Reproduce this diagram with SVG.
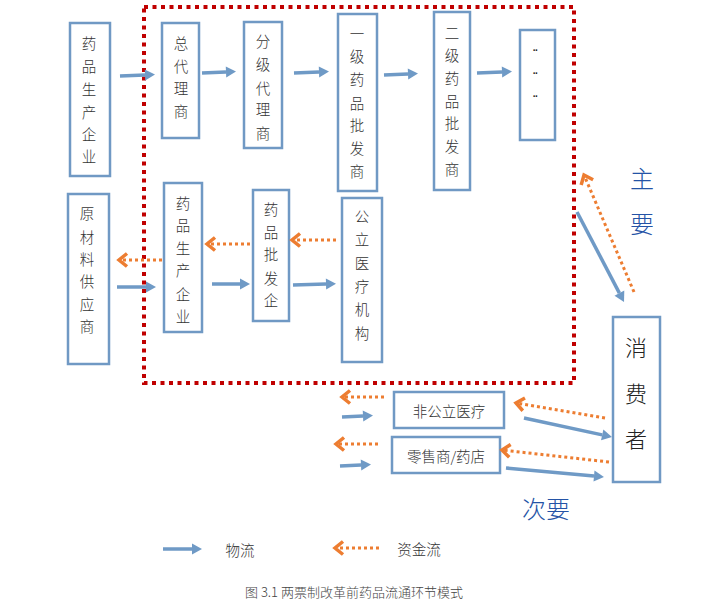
<svg xmlns="http://www.w3.org/2000/svg" width="721" height="609" viewBox="0 0 721 609">
<style>
.box{fill:#fff;stroke:#7099c4;stroke-width:2.5}
.t{font-family:"Noto Sans CJK SC","Liberation Sans",sans-serif;font-size:14.5px;font-weight:300;fill:#333;text-anchor:middle;dominant-baseline:central}
.big{font-family:"Noto Sans CJK SC","Liberation Sans",sans-serif;font-size:22px;font-weight:300;fill:#222;text-anchor:middle;dominant-baseline:central}
.lab{font-family:"Noto Sans CJK SC","Liberation Sans",sans-serif;font-size:24px;font-weight:300;fill:#2453a6;text-anchor:middle;dominant-baseline:central}
.dots{font-family:"Liberation Sans",sans-serif;font-size:10px;font-weight:bold;fill:#222;text-anchor:middle;dominant-baseline:central;letter-spacing:-1px}
.blue{stroke:#6f9ac6;stroke-width:3.5;fill:none;marker-end:url(#bh)}
.or{stroke:#ed7d31;stroke-width:3;stroke-dasharray:3 3;fill:none;marker-end:url(#oh)}
</style>
<defs>
<marker id="bh" markerUnits="userSpaceOnUse" orient="auto" refX="0" refY="0" viewBox="-1 -6 12 12" markerWidth="12" markerHeight="12" overflow="visible">
<path d="M0,-5.5 L10,0 L0,5.5 z" fill="#6f9ac6"/>
</marker>
<marker id="oh" markerUnits="userSpaceOnUse" orient="auto" refX="0" refY="0" viewBox="-10 -8 12 16" markerWidth="12" markerHeight="16" overflow="visible">
<path d="M-8,-6.5 L0,0 L-8,6.5" fill="none" stroke="#ed7d31" stroke-width="3.5"/>
</marker>
</defs>
<rect width="721" height="609" fill="#fff"/>
<rect x="144" y="7" width="430" height="376" fill="none" stroke="#c00000" stroke-width="4" stroke-dasharray="4 4.5"/>

<g id="n1"><rect class="box" x="70" y="23" width="40" height="153"/>
<text class="t" x="89" y="42">药</text><text class="t" x="89" y="65">品</text><text class="t" x="89" y="88">生</text><text class="t" x="89" y="111">产</text><text class="t" x="89" y="133">企</text><text class="t" x="89" y="155">业</text></g>
<g id="n2"><rect class="box" x="162" y="23" width="37" height="115"/>
<text class="t" x="181" y="42">总</text><text class="t" x="181" y="65">代</text><text class="t" x="181" y="87">理</text><text class="t" x="181" y="110">商</text></g>
<g id="n3"><rect class="box" x="244" y="22" width="38" height="126"/>
<text class="t" x="263" y="40">分</text><text class="t" x="263" y="63">级</text><text class="t" x="263" y="87">代</text><text class="t" x="263" y="108">理</text><text class="t" x="263" y="132">商</text></g>
<g id="n4"><rect class="box" x="338" y="14" width="39" height="177"/>
<text class="t" x="357" y="32">一</text><text class="t" x="357" y="55">级</text><text class="t" x="357" y="78">药</text><text class="t" x="357" y="102">品</text><text class="t" x="357" y="124">批</text><text class="t" x="357" y="147">发</text><text class="t" x="357" y="170">商</text></g>
<g id="n5"><rect class="box" x="434" y="12" width="36" height="178"/>
<text class="t" x="452" y="32">二</text><text class="t" x="452" y="54">级</text><text class="t" x="452" y="77">药</text><text class="t" x="452" y="100">品</text><text class="t" x="452" y="122">批</text><text class="t" x="452" y="145">发</text><text class="t" x="452" y="168">商</text></g>
<g id="n6"><rect class="box" x="520" y="30" width="35" height="110"/>
<text class="dots" x="535" y="50">··</text><text class="dots" x="535" y="73">··</text><text class="dots" x="535" y="96">··</text></g>
<g id="n7"><rect class="box" x="68" y="194" width="41" height="170"/>
<text class="t" x="87" y="212">原</text><text class="t" x="87" y="236">材</text><text class="t" x="87" y="258">料</text><text class="t" x="87" y="280">供</text><text class="t" x="87" y="303">应</text><text class="t" x="87" y="325">商</text></g>
<g id="n8"><rect class="box" x="164" y="183" width="38" height="149"/>
<text class="t" x="183" y="202">药</text><text class="t" x="183" y="224">品</text><text class="t" x="183" y="247">生</text><text class="t" x="183" y="269">产</text><text class="t" x="183" y="293">企</text><text class="t" x="183" y="315">业</text></g>
<g id="n9"><rect class="box" x="253" y="190" width="36" height="131"/>
<text class="t" x="271" y="208">药</text><text class="t" x="271" y="231">品</text><text class="t" x="271" y="253">批</text><text class="t" x="271" y="277">发</text><text class="t" x="271" y="299">企</text></g>
<g id="n10"><rect class="box" x="342" y="198" width="40" height="164"/>
<text class="t" x="362" y="215">公</text><text class="t" x="362" y="238">立</text><text class="t" x="362" y="262">医</text><text class="t" x="362" y="285">疗</text><text class="t" x="362" y="308">机</text><text class="t" x="362" y="332">构</text></g>
<g id="n11"><rect class="box" x="613" y="317" width="47" height="165"/>
<text class="big" x="636" y="346">消</text><text class="big" x="636" y="392">费</text><text class="big" x="636" y="437">者</text></g>
<g id="n12"><rect class="box" x="394" y="392" width="110" height="36"/>
<text class="t" x="449" y="410">非公立医疗</text></g>
<g id="n13"><rect class="box" x="392" y="437" width="108" height="36"/>
<text class="t" x="446" y="455">零售商/药店</text></g>

<g id="connectors">
<line class="blue" x1="120" y1="76" x2="145" y2="75"/>
<line class="blue" x1="202" y1="73" x2="226" y2="72"/>
<line class="blue" x1="294" y1="73" x2="319" y2="72"/>
<line class="blue" x1="384" y1="75" x2="408" y2="74"/>
<line class="blue" x1="477" y1="73" x2="502" y2="72"/>
<line class="blue" x1="117" y1="287" x2="146" y2="287"/>
<line class="blue" x1="212" y1="284" x2="240" y2="284"/>
<line class="blue" x1="293" y1="285" x2="326" y2="284"/>
<line class="blue" x1="577" y1="212" x2="619.4" y2="293.1"/>
<line class="blue" x1="342" y1="417" x2="363" y2="416"/>
<line class="blue" x1="340" y1="466" x2="361" y2="465"/>
<line class="blue" x1="524" y1="418" x2="602.2" y2="434.9"/>
<line class="blue" x1="506" y1="468" x2="594" y2="476.1"/>
<line class="or" x1="162" y1="260" x2="119" y2="260"/>
<line class="or" x1="250" y1="244" x2="207" y2="244"/>
<line class="or" x1="336" y1="240" x2="292" y2="240"/>
<line class="or" x1="634" y1="292" x2="584" y2="175"/>
<line class="or" x1="384" y1="397" x2="342" y2="397"/>
<line class="or" x1="378" y1="444" x2="336" y2="444"/>
<line class="or" x1="605" y1="418" x2="516" y2="403"/>
<line class="or" x1="609" y1="462" x2="502" y2="450"/>
<line class="blue" x1="163" y1="549" x2="192" y2="549"/>
<line class="or" x1="379" y1="548" x2="335" y2="548"/>
</g>

<text class="lab" x="642" y="177">主</text>
<text class="lab" x="642" y="222">要</text>
<text class="lab" x="546" y="507">次要</text>
<text class="t" x="240" y="549">物流</text>
<text class="t" x="419" y="548">资金流</text>
<text x="354" y="591" style="font-family:'Noto Sans CJK SC','Liberation Sans',sans-serif;font-size:13px;font-weight:300;fill:#444;text-anchor:middle;dominant-baseline:central">图 3.1 两票制改革前药品流通环节模式</text>
</svg>
